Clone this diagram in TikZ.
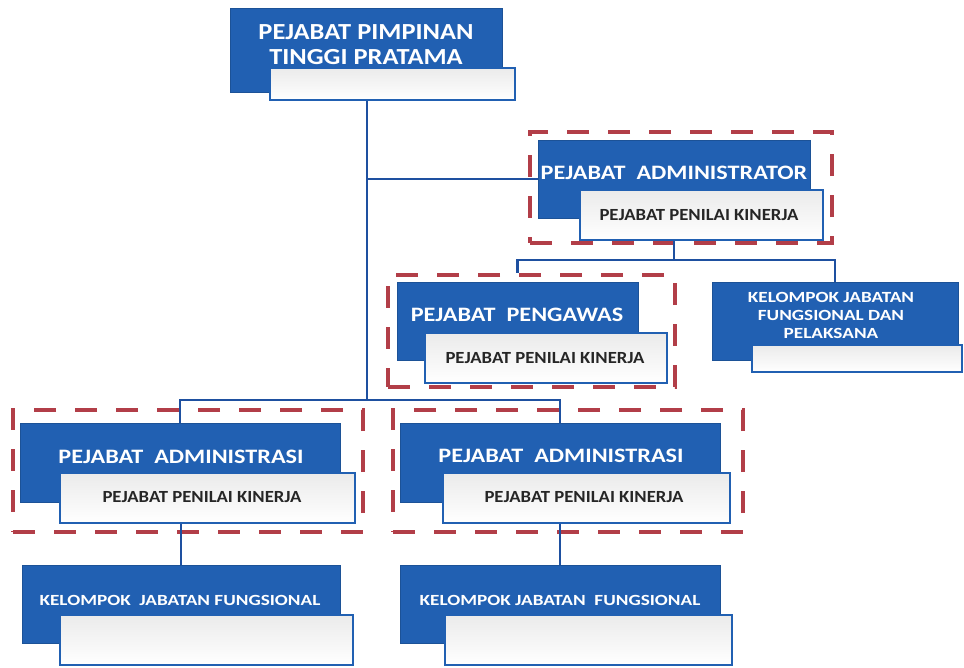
\documentclass[tikz,border=0pt]{standalone}
\usepackage{fontspec}
\setmainfont{Carlito}
\definecolor{myblue}{RGB}{33,96,178}
\definecolor{lineblue}{RGB}{30,80,160}
\definecolor{myred}{RGB}{178,62,72}
\begin{document}
\begin{tikzpicture}[x=1pt,y=-1pt,
  bluebox/.style={fill=myblue,draw=myblue!85!black,line width=0.6pt,inner sep=0pt},
  whitebox/.style={draw=myblue,line width=2pt,top color=gray!16,bottom color=white,middle color=gray!8,inner sep=0pt},
  dashbox/.style={draw=myred,line width=4.5pt,dash pattern=on 22pt off 19pt,inner sep=0pt},
  conn/.style={draw=lineblue,line width=2.2pt},
  wtext/.style={text=white,inner sep=0pt,align=center},
  toptext/.style={wtext,font=\addfontfeature{FakeStretch=1.15}\bfseries\fontsize{23}{25}\selectfont},
  midtext/.style={wtext,font=\addfontfeature{FakeStretch=1.18}\bfseries\fontsize{20.5}{22}\selectfont},
  smalltext/.style={wtext,font=\addfontfeature{FakeStretch=1.24}\bfseries\fontsize{15.5}{18}\selectfont},
  ktext/.style={text=black!85,font=\addfontfeature{FakeStretch=1.1}\bfseries\fontsize{17}{19}\selectfont,inner sep=0pt}
]
\useasboundingbox (0,0) rectangle (964,667);
% dashed frames
\node[dashbox,minimum width=302pt,minimum height=111pt] (admD) at (681,187.5) {};
\node[dashbox,minimum width=287pt,minimum height=112pt] (pD) at (531.5,331) {};
\node[dashbox,minimum width=350pt,minimum height=122pt] (a1D) at (188,471) {};
\node[dashbox,minimum width=350pt,minimum height=122pt] (a2D) at (568,471) {};
% top
\node[bluebox,minimum width=272pt,minimum height=84pt] (topB) at (366,50) {};
\node[whitebox,minimum width=245pt,minimum height=32pt] (topW) at (392.5,84) {};
\node[toptext] (topT) at (366,45) {PEJABAT PIMPINAN\\TINGGI PRATAMA};
% administrator
\node[bluebox,minimum width=272pt,minimum height=78pt] (admB) at (674,179) {};
\node[whitebox,minimum width=243pt,minimum height=50pt] (admW) at (701.5,215) {};
\node[midtext] (admT) at (674,173) {PEJABAT \ ADMINISTRATOR};
\node[ktext] (admK) at (699,215) {PEJABAT PENILAI KINERJA};
% pengawas
\node[bluebox,minimum width=241pt,minimum height=78pt] (pB) at (517.5,321) {};
\node[whitebox,minimum width=242pt,minimum height=50pt] (pW) at (546,358) {};
\node[midtext] (pT) at (517,315) {PEJABAT \ PENGAWAS};
\node[ktext] (pK) at (545,358) {PEJABAT PENILAI KINERJA};
% kelompok right
\node[bluebox,minimum width=246pt,minimum height=78pt] (kB) at (835,321) {};
\node[whitebox,minimum width=210pt,minimum height=27pt] (kW) at (857,358.5) {};
\node[smalltext] (kT) at (831,315) {KELOMPOK JABATAN\\FUNGSIONAL DAN\\PELAKSANA};
% administrasi 1
\node[bluebox,minimum width=320pt,minimum height=79pt] (a1B) at (180,462.5) {};
\node[whitebox,minimum width=295pt,minimum height=50pt] (a1W) at (207.5,498) {};
\node[midtext] (a1T) at (181,457) {PEJABAT \ ADMINISTRASI};
\node[ktext] (a1K) at (202,497) {PEJABAT PENILAI KINERJA};
% administrasi 2
\node[bluebox,minimum width=320pt,minimum height=79pt] (a2B) at (560,462.5) {};
\node[whitebox,minimum width=287pt,minimum height=50pt] (a2W) at (586.5,498) {};
\node[midtext] (a2T) at (561,456) {PEJABAT \ ADMINISTRASI};
\node[ktext] (a2K) at (584,497) {PEJABAT PENILAI KINERJA};
% kelompok bottom
\node[bluebox,minimum width=318pt,minimum height=78pt] (k1B) at (181,604) {};
\node[whitebox,minimum width=293pt,minimum height=50pt] (k1W) at (206.5,640) {};
\node[smalltext] (k1T) at (180,600) {KELOMPOK \ JABATAN FUNGSIONAL};
\node[bluebox,minimum width=320pt,minimum height=78pt] (k2B) at (560,604) {};
\node[whitebox,minimum width=287pt,minimum height=50pt] (k2W) at (588.5,640) {};
\node[smalltext] (k2T) at (560,600) {KELOMPOK JABATAN \ FUNGSIONAL};
% connectors
\coordinate (tr) at (367,0);
\coordinate (hb) at (0,400);
\coordinate (hm) at (0,260);
\draw[conn] (topW.south -| tr) -- (tr |- hb);
\draw[conn] (tr |- admB.west) -- (admB.west);
\draw[conn] (a1B.north) -- (a1B.north |- hb) -- (a2B.north |- hb) -- (a2B.north);
\draw[conn] (admW.south -| admB.south) -- (admB.south |- hm);
\draw[conn] (pD.north -| pB.north) -- (pB.north |- hm) -- (kB.north |- hm) -- (kB.north);
\draw[conn] (a1W.south -| k1B.north) -- (k1B.north);
\draw[conn] (a2W.south -| k2B.north) -- (k2B.north);
\end{tikzpicture}
\end{document}
